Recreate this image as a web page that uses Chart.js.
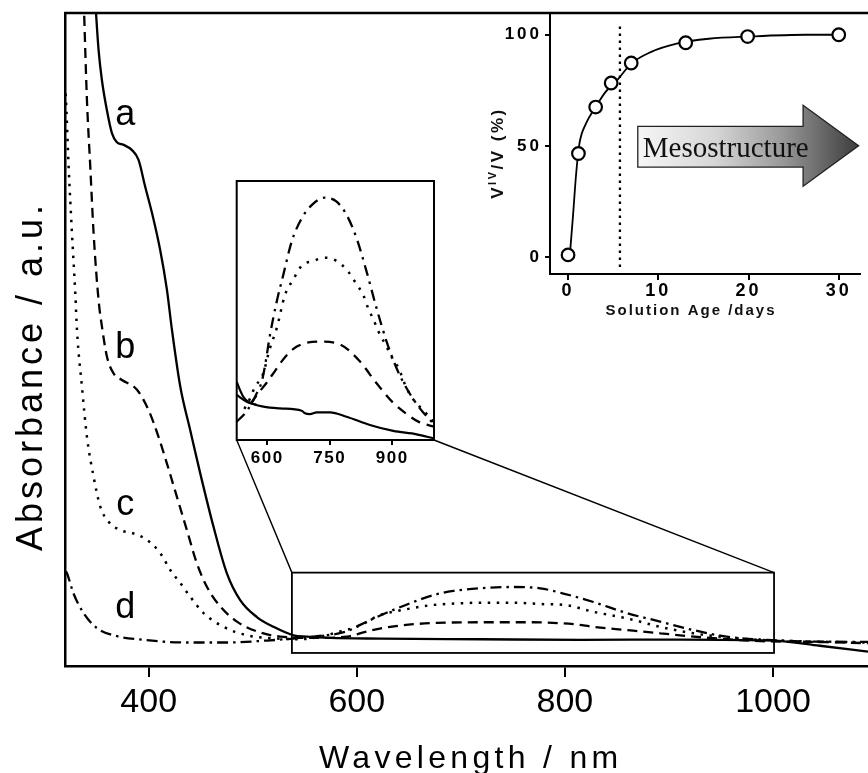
<!DOCTYPE html>
<html><head><meta charset="utf-8">
<script src="https://cdn.jsdelivr.net/npm/chart.js@4.4.0/dist/chart.umd.min.js"></script>
<style>
html,body{margin:0;padding:0;background:#fff;}
#wrap{position:relative;width:868px;height:773px;overflow:hidden;background:#fff;}
canvas{position:absolute;left:0;top:0;}
</style></head><body>
<div id="wrap">
<canvas id="main" width="868" height="773"></canvas>
<canvas id="zoom" width="868" height="773"></canvas>
<canvas id="age" width="868" height="773"></canvas>
</div>
<script>
// ---------- DATA ----------
const WAVE_TICKS = [400, 600, 800, 1000];
const ZOOM_TICKS = [600, 750, 900];
const AGE_TICKS = [0, 10, 20, 30];
const PCT_TICKS = [0, 50, 100];
const CURVE_NAMES = ['a', 'b', 'c', 'd'];

// main spectra: [wavelength nm, absorbance a.u.]
const SPEC_A = [[348.5,102],[351.8,94.3],[355,89.7],[359.8,85.1],[364.6,81.6],[369.4,80.2],[375.8,79.8],[383.9,79.0],[390.2,77.5],[396.6,73.4],[403.1,69.4],[411,63.7],[417.5,57.6],[422.3,51.5],[430.3,42.8],[439.9,36.1],[449.5,29.5],[462.3,21.3],[475.1,14.2],[487.9,10.1],[503.9,7.5],[519.9,6.0],[539.1,4.7],[552,4.5],[574.4,4.3],[622.4,4.2],[718.8,4.1],[814.9,4.0],[910.7,4.05],[1000,3.9],[1045,3.1],[1091.3,2.2]];
const SPEC_B = [[337.5,102],[340.6,86.7],[343.8,76.5],[347,66.3],[351.8,56],[355,52],[359.8,47.4],[366.2,44.8],[374.2,43.8],[388.7,42.3],[399.8,39.2],[409.4,35.1],[417.5,31.0],[427.1,25.9],[436.7,20.8],[446.3,15.7],[456,12.1],[468.8,9.1],[484.8,6.8],[504,5.3],[526.4,4.5],[560,4.3],[590.6,4.5],[609.8,5.3],[632.2,6.0],[654.6,6.4],[677.1,6.6],[718.8,6.7],[766.8,6.7],[808.5,6.4],[827.7,6.0],[859.8,5.5],[891.8,5.0],[923.8,4.5],[955.9,4.1],[987.9,3.8],[1036,3.7],[1091.3,3.5]];
const SPEC_C = [[319,89],[320.3,87.1],[323,76.5],[326.2,66.3],[329.4,57.1],[331,51.5],[335.8,42.8],[340.6,35.1],[347,29],[353.4,24.4],[361.4,22.1],[372.6,20.8],[385.4,20.3],[398.3,19.3],[411,17.3],[420.7,14.7],[430.3,12.7],[439.9,10.6],[452.7,8.1],[471.9,6.0],[494.4,4.7],[523.2,4.2],[545.6,4.1],[565,4.5],[584,5.3],[600,6.0],[622.4,7.8],[644.8,8.6],[670.5,9.3],[699.3,9.6],[725,9.7],[750.5,9.7],[775,9.5],[801.8,9.3],[827.4,8.3],[859.5,7.3],[891.5,6.0],[923.5,5.0],[955.5,4.4],[987.5,4.0],[1035.6,3.75],[1091.3,3.6]];
const SPEC_D = [[320.3,14.5],[321.4,14.2],[327.7,11.1],[337.4,8.1],[350.2,5.8],[366.2,4.7],[395,4.0],[436.7,3.6],[475.1,3.6],[513.6,3.9],[539.1,4.2],[558.3,4.5],[590.4,5.3],[603.2,6.3],[619.3,7.5],[635.2,8.6],[654.4,9.8],[676.9,11.0],[692.9,11.5],[718.5,11.9],[750.2,12.1],[776.2,11.9],[798.5,11.1],[827.4,9.8],[859.5,8.1],[891.5,6.8],[923.5,5.5],[955.5,4.5],[994,4.0],[1035.6,3.75],[1091.3,3.7]];

// enlarged inset spectra: [wavelength nm, absorbance a.u.]
const ZOOM_A = [[526.6,22.5],[534.5,19.3],[542.4,16.7],[554,14.8],[566.4,13.9],[590.4,12.9],[630.5,12.2],[682.6,11.3],[690.5,10.3],[702.5,10.0],[718.6,10.7],[750.5,10.7],[790.5,9.0],[846.5,5.8],[902.4,3.5],[958.5,2.2],[1000,0.6]];
const ZOOM_A2 = [[526.6,17.4],[550.6,14.8],[574.6,13.5]];
const ZOOM_B = [[560,14],[578,18],[598,22],[620,27],[640,31.5],[670,36],[726,38],[773,37],[821,30.6],[862,22],[902,14.4],[935,10],[966,6.8],[1000,5.2]];
const ZOOM_C = [[545,12],[560,16.5],[570.5,20.6],[582.5,23.2],[590.4,25.8],[606.5,35.5],[622.6,43.1],[642.5,56],[662.4,62],[682.6,67.3],[710.4,69.1],[738.5,70.4],[766.5,69.1],[794.4,65],[812.9,60.5],[830.4,56],[842.4,50.8],[854.4,46.7],[866.4,42.1],[886.5,36],[902.4,31],[914.4,28],[934.5,20],[954.5,14.8],[974.4,11.5],[1000,7]];
const ZOOM_D = [[526.6,7.1],[546.5,10.3],[562.6,14.2],[574.6,18],[586.6,22.5],[594.5,28.6],[606.5,40.5],[622.6,53.4],[638.4,63.7],[658.6,76.6],[682.6,85.6],[706.6,90.7],[738.5,93.6],[766.5,92],[790.5,86.9],[814.5,77.9],[838.5,65],[862.5,50.8],[886.5,38],[910.5,27.7],[934.5,20],[966.4,12.2],[998.4,6.4]];

// V(IV)/V vs solution age
const AGE_DAYS = [0, 1.15, 3.06, 4.78, 7.0, 13.04, 19.9, 30];
const VIV_PCT  = [1, 46.6, 67.5, 78.3, 87.3, 96.4, 99.2, 100];
const FIT_DAYS = [0.18, 0.54, 0.9, 1.26, 1.98, 3.06, 4.14, 5.57, 7.0, 9.16, 12.04, 15.6, 20, 26.4, 30];
const FIT_PCT  = [0, 18.1, 37.6, 51, 60, 67.5, 74.2, 80.2, 87, 92.2, 96.0, 98.2, 99.2, 100, 100];
const MESO_DAY = [5.75, 5.75];
const MESO_PCT = [-4.5, 105];

// ---------- ANNOTATION GEOMETRY (data units) ----------
const ZOOM_BOX_NM = [537.6, 1001];
const ZOOM_BOX_ABS = [2.0, 14.3];
const LABEL_POS = [[367.8,82.8],[367.8,47.2],[368.8,23.1],[367.8,7.35]];
const ARROW = {tail: 7.73, headBase: 26.05, tip: 32.2, bodyLo: 40.5, bodyHi: 58.8, headLo: 31.9, headHi: 68.3, mid: 50.1};

// ---------- HELPERS ----------
const SANS = '"Liberation Sans", Arial, Helvetica, sans-serif';
const SERIF = '"Liberation Serif", "Times New Roman", serif';
Chart.defaults.font.family = SANS;
Chart.defaults.color = '#000';
const pts = arr => arr.map(([x, y]) => ({x, y}));
const zip = (xs, ys) => xs.map((x, i) => ({x, y: ys[i]}));
function line(label, data, dash, width) {
  return {label, data, borderColor: '#000', borderWidth: width, borderDash: dash,
    pointRadius: 0, fill: false, cubicInterpolationMode: 'monotone', borderCapStyle: 'butt', borderJoinStyle: 'round'};
}
const setTicks = vals => s => { s.ticks = vals.map(v => ({value: v})); };
const baseOpts = () => ({responsive: false, animation: false, devicePixelRatio: 1, events: [],
  plugins: {legend: {display: false}, tooltip: {enabled: false}}});

// ---------- MAIN CHART ----------
const mainDeco = {
  id: 'mainDeco',
  afterDraw(chart) {
    const {ctx, chartArea: ca, scales: {x, y}} = chart;
    ctx.save();
    ctx.strokeStyle = '#000';
    ctx.lineWidth = 2.5;
    ctx.beginPath(); ctx.moveTo(ca.left - 1.25, ca.top); ctx.lineTo(ca.right, ca.top); ctx.stroke();
    const rx0 = x.getPixelForValue(ZOOM_BOX_NM[0]), rx1 = x.getPixelForValue(ZOOM_BOX_NM[1]);
    const ry0 = y.getPixelForValue(ZOOM_BOX_ABS[1]), ry1 = y.getPixelForValue(ZOOM_BOX_ABS[0]);
    ctx.lineWidth = 1.8;
    ctx.strokeRect(rx0, ry0, rx1 - rx0, ry1 - ry0);
    ctx.fillStyle = '#000';
    ctx.font = '36px ' + SANS;
    ctx.textAlign = 'left'; ctx.textBaseline = 'alphabetic';
    CURVE_NAMES.forEach((n, i) => ctx.fillText(n, x.getPixelForValue(LABEL_POS[i][0]), y.getPixelForValue(LABEL_POS[i][1])));
    // axis titles
    ctx.letterSpacing = '4.3px';
    ctx.font = '32px ' + SANS;
    ctx.textAlign = 'center';
    ctx.fillText('Wavelength / nm', (ca.left + ca.right) / 2 + 4, 768);
    ctx.translate(41.5, 378);
    ctx.rotate(-Math.PI / 2);
    ctx.letterSpacing = '4px';
    ctx.font = '36px ' + SANS;
    ctx.fillText('Absorbance / a.u.', 2, 0);
    ctx.restore();
  }
};

const mainChart = new Chart(document.getElementById('main'), {
  type: 'line',
  data: {datasets: [
    line('a', pts(SPEC_A), [], 2.3),
    line('b', pts(SPEC_B), [10, 6], 2.3),
    line('c', pts(SPEC_C), [2.5, 6.5], 2.5),
    line('d', pts(SPEC_D), [11, 5, 2.5, 5], 2.3)
  ]},
  options: Object.assign(baseOpts(), {
    layout: {padding: {left: 65.5, top: 13, right: 0, bottom: 0}},
    scales: {
      x: {type: 'linear', min: 320, max: 1091.3, afterFit: s => { s.height = 107; },
        afterBuildTicks: setTicks(WAVE_TICKS),
        grid: {drawOnChartArea: false, drawTicks: true, tickLength: 11, color: '#000', lineWidth: 2},
        border: {display: true, color: '#000', width: 2.5},
        ticks: {font: {family: SANS, size: 34}, color: '#000', padding: 5, maxRotation: 0, autoSkip: false, callback: v => String(v)}},
      y: {type: 'linear', min: 0, max: 100, afterFit: s => { s.width = 0; },
        grid: {drawOnChartArea: false, drawTicks: false},
        border: {display: true, color: '#000', width: 2.5},
        ticks: {display: false}}
    }
  }),
  plugins: [mainDeco]
});

// ---------- ZOOM INSET ----------
const zoomDeco = {
  id: 'zoomDeco',
  beforeDraw(chart) { chart.ctx.letterSpacing = '1.5px'; },
  beforeDatasetsDraw(chart) {
    const {ctx, chartArea: ca} = chart;
    ctx.save(); ctx.fillStyle = '#fff'; ctx.fillRect(ca.left, ca.top, ca.right - ca.left, ca.bottom - ca.top); ctx.restore();
  },
  afterDraw(chart) {
    const {ctx, chartArea: ca} = chart;
    ctx.letterSpacing = '0px';
    const mx = mainChart.scales.x, my = mainChart.scales.y;
    ctx.save();
    ctx.strokeStyle = '#000';
    ctx.lineWidth = 2;
    ctx.strokeRect(ca.left, ca.top, ca.right - ca.left, ca.bottom - ca.top);
    ctx.lineWidth = 1.4;
    const rx0 = mx.getPixelForValue(ZOOM_BOX_NM[0]), rx1 = mx.getPixelForValue(ZOOM_BOX_NM[1]);
    const ry0 = my.getPixelForValue(ZOOM_BOX_ABS[1]);
    ctx.beginPath();
    ctx.moveTo(ca.left, ca.bottom); ctx.lineTo(rx0, ry0);
    ctx.moveTo(ca.right, ca.bottom); ctx.lineTo(rx1, ry0);
    ctx.stroke();
    ctx.restore();
  }
};

new Chart(document.getElementById('zoom'), {
  type: 'line',
  data: {datasets: [
    line('a', pts(ZOOM_A), [], 2.2),
    line('a2', pts(ZOOM_A2), [], 2.2),
    line('b', pts(ZOOM_B), [10, 7], 2.3),
    line('c', pts(ZOOM_C), [2.5, 7], 2.5),
    line('d', pts(ZOOM_D), [11, 6, 2.5, 6], 2.3)
  ]},
  options: Object.assign(baseOpts(), {
    layout: {padding: {left: 236.7, top: 181, right: 434, bottom: 303}},
    scales: {
      x: {type: 'linear', min: 526.6, max: 1000.3, afterFit: s => { s.height = 30; },
        afterBuildTicks: setTicks(ZOOM_TICKS),
        grid: {drawOnChartArea: false, drawTicks: true, tickLength: 5, color: '#000', lineWidth: 2},
        border: {display: false},
        ticks: {font: {family: SANS, size: 17, weight: 'bold'}, color: '#000', padding: 3, maxRotation: 0, autoSkip: false, callback: v => String(v)}},
      y: {type: 'linear', min: 0, max: 100, afterFit: s => { s.width = 0; },
        grid: {display: false}, border: {display: false}, ticks: {display: false}}
    }
  }),
  plugins: [zoomDeco]
});

// ---------- AGE INSET ----------
const ageDeco = {
  id: 'ageDeco',
  beforeDraw(chart) { chart.ctx.letterSpacing = '3px'; },
  afterDraw(chart) {
    const {ctx, scales: {x, y}} = chart;
    ctx.letterSpacing = '0px';
    ctx.save();
    // arrow
    const x0 = x.getPixelForValue(ARROW.tail), x1 = x.getPixelForValue(ARROW.headBase), x2 = x.getPixelForValue(ARROW.tip);
    const bt = y.getPixelForValue(ARROW.bodyHi), bb = y.getPixelForValue(ARROW.bodyLo);
    const ht = y.getPixelForValue(ARROW.headHi), hb = y.getPixelForValue(ARROW.headLo), yc = y.getPixelForValue(ARROW.mid);
    const g = ctx.createLinearGradient(x0, 0, x2, 0);
    g.addColorStop(0, '#f6f6f6'); g.addColorStop(0.35, '#d6d6d6'); g.addColorStop(0.65, '#9a9a9a'); g.addColorStop(1, '#3c3c3c');
    ctx.beginPath();
    ctx.moveTo(x0, bt); ctx.lineTo(x1, bt); ctx.lineTo(x1, ht); ctx.lineTo(x2, yc);
    ctx.lineTo(x1, hb); ctx.lineTo(x1, bb); ctx.lineTo(x0, bb); ctx.closePath();
    ctx.fillStyle = g; ctx.fill();
    ctx.strokeStyle = '#222'; ctx.lineWidth = 1.3; ctx.stroke();
    ctx.fillStyle = '#111';
    ctx.font = '29px ' + SERIF;
    ctx.textAlign = 'left'; ctx.textBaseline = 'alphabetic';
    ctx.fillText('Mesostructure', x0 + 5, yc + 11);
    // x title
    ctx.letterSpacing = '2px';
    ctx.font = 'bold 15px ' + SANS;
    ctx.textAlign = 'center';
    ctx.fillText('Solution Age /days', 691, 315);
    // y title with superscript
    ctx.translate(503, 153);
    ctx.rotate(-Math.PI / 2);
    ctx.letterSpacing = '2.5px';
    ctx.textAlign = 'left';
    const big = 'bold 17px ' + SANS, small = 'bold 11px ' + SANS;
    const parts = [['V', big, 0], ['IV', small, -7], ['/V (%)', big, 0]];
    let w = 0;
    parts.forEach(p => { ctx.font = p[1]; p.w = ctx.measureText(p[0]).width; w += p.w; });
    let xx = -w / 2;
    parts.forEach(p => { ctx.font = p[1]; ctx.fillText(p[0], xx, p[2]); xx += p.w; });
    ctx.restore();
  }
};

new Chart(document.getElementById('age'), {
  type: 'line',
  data: {datasets: [
    {label: 'data', data: zip(AGE_DAYS, VIV_PCT), showLine: false, pointRadius: 6.3, pointBorderWidth: 2.2,
      pointBackgroundColor: '#fff', pointBorderColor: '#000', order: 0},
    Object.assign(line('fit', zip(FIT_DAYS, FIT_PCT), [], 1.8), {order: 1}),
    Object.assign(line('mesophase onset', zip(MESO_DAY, MESO_PCT), [2.5, 4.5], 2.3), {order: 2, cubicInterpolationMode: 'default'})
  ]},
  options: Object.assign(baseOpts(), {
    layout: {padding: {left: 500, top: 13, right: 0, bottom: 459}},
    scales: {
      x: {type: 'linear', min: -2, max: 32.3, afterFit: s => { s.height = 40; },
        afterBuildTicks: setTicks(AGE_TICKS),
        grid: {drawOnChartArea: false, drawTicks: true, tickLength: 6, color: '#000', lineWidth: 2},
        border: {display: true, color: '#000', width: 2},
        ticks: {font: {family: SANS, size: 18, weight: 'bold'}, color: '#000', padding: 0, maxRotation: 0, autoSkip: false, callback: v => String(v)}},
      y: {type: 'linear', min: -7.6, max: 109.7, afterFit: s => { s.width = 50; },
        afterBuildTicks: setTicks(PCT_TICKS),
        grid: {drawOnChartArea: false, drawTicks: true, tickLength: 5, color: '#000', lineWidth: 2},
        border: {display: true, color: '#000', width: 2},
        ticks: {font: {family: SANS, size: 17, weight: 'bold'}, color: '#000', padding: 3, autoSkip: false, callback: v => String(v)}}
    }
  }),
  plugins: [ageDeco]
});
</script>
</body></html>
